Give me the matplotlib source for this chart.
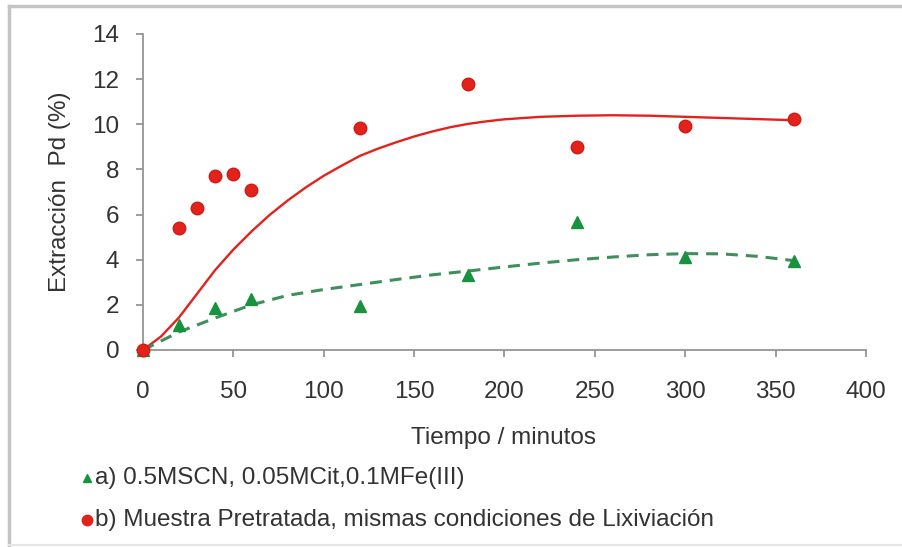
import matplotlib
matplotlib.use("Agg")
import matplotlib.pyplot as plt
from matplotlib.lines import Line2D

plt.rcParams.update({"font.family": ["Liberation Sans", "DejaVu Sans"], "font.size": 17.5})

# Extracción de Pd vs tiempo
# a) 0.5MSCN, 0.05MCit, 0.1MFe(III)
t_a = [0, 20, 40, 60, 120, 180, 240, 300, 360]
pd_a = [0, 1.1, 1.87, 2.27, 1.96, 3.33, 5.69, 4.13, 3.96]
# b) muestra pretratada
t_b = [0, 20, 30, 40, 50, 60, 120, 180, 240, 300, 360]
pd_b = [0, 5.4, 6.27, 7.69, 7.78, 7.07, 9.82, 11.78, 8.98, 9.91, 10.22]

# trend lines
trend_t_a = [0, 20, 40, 60, 80, 100, 120, 140, 160, 180, 200, 220, 240, 260, 280, 300, 320, 340, 360]
trend_a = [0, 0.8, 1.42, 2.0, 2.42, 2.68, 2.9, 3.12, 3.33, 3.5, 3.68, 3.85, 4.0, 4.12, 4.22, 4.27, 4.26, 4.15, 3.96]
trend_t_b = [0, 10, 20, 30, 40, 50, 60, 70, 80, 90, 100, 110, 120, 130, 140, 150, 160, 170, 180,
             190, 200, 220, 240, 260, 280, 300, 320, 340, 360]
trend_b = [0, 0.6, 1.45, 2.5, 3.55, 4.45, 5.25, 5.98, 6.62, 7.2, 7.72, 8.17, 8.6, 8.92, 9.2, 9.46,
           9.68, 9.87, 10.02, 10.13, 10.22, 10.33, 10.38, 10.4, 10.38, 10.33, 10.28, 10.23, 10.18]

labels = ["a) 0.5MSCN, 0.05MCit,0.1MFe(III)",
          "b) Muestra Pretratada, mismas condiciones de Lixiviación"]

RED = "#e3221b"
GREEN = "#17923f"
GREEN_LINE = "#3f8f5c"
AXIS = "#8c8c8c"
TXT = "#333333"

fig = plt.figure(figsize=(9.03, 5.47), dpi=100)
ax = fig.add_axes([143 / 903, 1 - 350 / 547, 723 / 903, 316 / 547])

ax.plot(trend_t_b, trend_b, color=RED, lw=1.7, zorder=2)
ax.plot(trend_t_a, trend_a, color=GREEN_LINE, lw=2.2, ls=(0, (3.9, 2.6)), zorder=2)
ax.plot(t_a, pd_a, ls="none", marker="^", ms=8, color=GREEN, mec=GREEN, zorder=3, clip_on=False)
ax.plot(t_b, pd_b, ls="none", marker="o", ms=9, color=RED, mec="#d01a14", zorder=4, clip_on=False)

ax.set_xlim(0, 400)
ax.set_ylim(0, 14)
ax.set_xticks(range(0, 401, 50))
ax.set_yticks(range(0, 15, 2))
for s in ("top", "right"):
    ax.spines[s].set_visible(False)
for s in ("left", "bottom"):
    ax.spines[s].set_color(AXIS)
    ax.spines[s].set_linewidth(1.2)
ax.tick_params(axis="both", colors=AXIS, labelcolor=TXT, length=5, width=1.2, direction="out")
ax.tick_params(axis="x", pad=17)
ax.tick_params(axis="y", pad=12)

fig.text(504 / 903, 1 - 438 / 547, "Tiempo / minutos", ha="center", va="center", color=TXT)
fig.text(60 / 903, 1 - 192 / 547, "Extracción  Pd (%)", ha="center", va="center",
         rotation=90, color=TXT)

# legend rows
rows = [(478, "^", GREEN, 6), (520, "o", RED, 7.5)]
for (y, mk, col, ms), lab in zip(rows, labels):
    fy = 1 - y / 547
    fig.add_artist(Line2D([87 / 903], [fy], marker=mk, ms=ms, color=col, ls="none"))
    fig.text(95 / 903, fy, lab, ha="left", va="center", color=TXT)

# outer frame
frame = dict(color="#c4c4c4", lw=2.5, transform=fig.transFigure)
fig.add_artist(Line2D([9 / 903, 1], [1 - 6 / 547, 1 - 6 / 547], **frame))
fig.add_artist(Line2D([9 / 903, 9 / 903], [1 - 6 / 547, 1 - 545 / 547], **frame))
fig.add_artist(Line2D([9 / 903, 1], [1 - 545 / 547, 1 - 545 / 547], color="#e6e6e6", lw=1.5,
                      transform=fig.transFigure))

fig.savefig("out.png", dpi=100)
